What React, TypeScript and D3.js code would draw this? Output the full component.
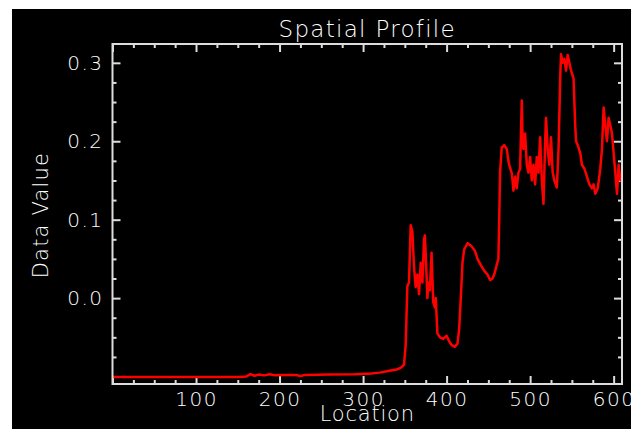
import React, { useEffect, useRef } from "react";
import * as d3 from "d3";

// profile samples: location, data value
const baseLocs = [0, 50, 100, 150, 160, 165, 170, 175, 182, 188, 195, 205, 220, 225, 230, 260, 290, 310, 320, 330, 340, 345, 349];
const baseVals = [-0.1005, -0.1005, -0.1005, -0.1005, -0.1, -0.097, -0.099, -0.0975, -0.0985, -0.097, -0.0985, -0.098, -0.098, -0.0995, -0.098, -0.0975, -0.097, -0.096, -0.095, -0.093, -0.091, -0.089, -0.085];

const riseLocs = [351, 353, 355, 357, 359, 361, 363, 365, 367, 369, 371, 373, 374, 376, 377, 378, 380, 382, 384, 386, 387, 389, 392, 396, 400, 403, 406, 410, 413, 415, 417, 419, 421, 425, 430, 434, 437, 441, 445, 449, 452, 455, 457, 460, 462];
const riseVals = [-0.06, 0.015, 0.02, 0.093, 0.085, 0.04, 0.014, 0.03, 0.005, 0.045, 0.02, 0.075, 0.08, 0.03, 0.0, 0.02, 0.01, 0.058, -0.005, -0.012, 0.0, -0.045, -0.05, -0.052, -0.048, -0.055, -0.06, -0.062, -0.058, -0.04, 0.0, 0.045, 0.062, 0.07, 0.066, 0.06, 0.05, 0.042, 0.035, 0.03, 0.023, 0.025, 0.03, 0.042, 0.05];

const highLocs = [463, 464, 466, 469, 472, 474, 475, 478, 479, 480, 482, 484, 486, 488, 490, 491, 492, 494, 496, 498, 500, 502, 504, 506, 508, 510, 512, 514, 516, 518, 519, 521, 523, 525, 527, 529, 532, 534, 536, 537, 539, 541, 543, 545, 547, 549, 552, 554, 555, 557, 560, 562, 565, 568, 571, 574, 576, 578, 581, 584, 586, 588, 590, 592, 594, 596, 598, 600, 602, 604, 606, 608, 609];
const highVals = [0.1, 0.16, 0.192, 0.195, 0.19, 0.175, 0.17, 0.159, 0.15, 0.137, 0.155, 0.14, 0.16, 0.165, 0.252, 0.2, 0.19, 0.21, 0.17, 0.16, 0.18, 0.15, 0.17, 0.145, 0.18, 0.16, 0.205, 0.15, 0.12, 0.2, 0.23, 0.19, 0.17, 0.205, 0.16, 0.15, 0.141, 0.19, 0.28, 0.311, 0.3, 0.305, 0.29, 0.31, 0.3, 0.29, 0.28, 0.22, 0.2, 0.195, 0.185, 0.17, 0.165, 0.155, 0.145, 0.14, 0.145, 0.133, 0.14, 0.165, 0.19, 0.243, 0.22, 0.2, 0.23, 0.22, 0.21, 0.185, 0.16, 0.133, 0.17, 0.15, 0.155];

const xMajor = [0, 100, 200, 300, 400, 500, 600];
const xLabels = ["", "100", "200", "300", "400", "500", "600"];
const yMajor = [0.0, 0.1, 0.2, 0.3];
const yLabels = ["0.0", "0.1", "0.2", "0.3"];

export default function App() {
  const ref = useRef<SVGSVGElement>(null);

  useEffect(() => {
    const width = 631;
    const height = 429;
    const left = 112.5;
    const right = 622;
    const top = 44;
    const bottom = 384;
    const fg = "#dcdcdc";
    const font = "DejaVu Sans, sans-serif";

    const svg = d3.select(ref.current);
    svg.selectAll("*").remove();

    svg.append("rect").attr("width", width).attr("height", height).attr("fill", "#fff");
    svg.append("rect").attr("x", 12).attr("y", 9).attr("width", width - 12).attr("height", height - 9).attr("fill", "#000");

    const x = d3.scaleLinear().domain([0, 610]).range([left, right]);
    const y = d3.scaleLinear().domain([-0.1095, 0.324]).range([bottom, top]);

    const xMinor = d3.range(0, 611, 25).filter((d) => d % 100 !== 0);
    const yMinor = d3.range(-4, 13).map((i) => i * 0.025).filter((d) => Math.abs(d * 10 - Math.round(d * 10)) > 1e-6 && d <= 0.324 && d >= -0.1095);

    const styleAxis = (g: any) => {
      g.select(".domain").remove();
      g.selectAll("line").attr("stroke", fg).attr("stroke-width", 2);
    };
    const styleText = (sel: any, size: number, spacing: number) =>
      sel.attr("fill", "#ffffff").attr("font-family", font).attr("font-weight", 200)
        .attr("font-size", size).attr("letter-spacing", spacing);

    // inward ticks on all four sides
    svg.append("g").attr("transform", `translate(0,${bottom})`)
      .call(d3.axisBottom(x).tickValues(xMinor).tickSize(-4).tickFormat(() => "")).call(styleAxis);
    svg.append("g").attr("transform", `translate(0,${top})`)
      .call(d3.axisTop(x).tickValues(xMinor).tickSize(-4).tickFormat(() => "")).call(styleAxis);
    svg.append("g").attr("transform", `translate(0,${top})`)
      .call(d3.axisTop(x).tickValues(xMajor).tickSize(-8).tickFormat(() => "")).call(styleAxis);
    svg.append("g").attr("transform", `translate(${left},0)`)
      .call(d3.axisLeft(y).tickValues(yMinor).tickSize(-4).tickFormat(() => "")).call(styleAxis);
    svg.append("g").attr("transform", `translate(${right},0)`)
      .call(d3.axisRight(y).tickValues(yMinor).tickSize(-4).tickFormat(() => "")).call(styleAxis);
    svg.append("g").attr("transform", `translate(${right},0)`)
      .call(d3.axisRight(y).tickValues(yMajor).tickSize(-8).tickFormat(() => "")).call(styleAxis);

    const xAxis = svg.append("g").attr("transform", `translate(0,${bottom})`)
      .call(d3.axisBottom(x).tickValues(xMajor).tickSize(-8).tickPadding(8)
        .tickFormat((_d, i) => xLabels[i]));
    xAxis.call(styleAxis);
    styleText(xAxis.selectAll("text"), 20, 1.5);

    const yAxis = svg.append("g").attr("transform", `translate(${left},0)`)
      .call(d3.axisLeft(y).tickValues(yMajor).tickSize(-8).tickPadding(9)
        .tickFormat((_d, i) => yLabels[i]));
    yAxis.call(styleAxis);
    styleText(yAxis.selectAll("text"), 20, 1.5);

    // the profile
    const locs = [...baseLocs, ...riseLocs, ...highLocs];
    const vals = [...baseVals, ...riseVals, ...highVals];
    const pts = locs.map((l, i) => [l, vals[i]] as [number, number]);
    const line = d3.line<[number, number]>().x((d) => x(d[0])).y((d) => y(d[1]));
    svg.append("path").datum(pts).attr("d", line).attr("fill", "none")
      .attr("stroke", "#ff0000").attr("stroke-width", 2.5).attr("stroke-linejoin", "round");

    svg.append("rect").attr("x", left).attr("y", top).attr("width", right - left).attr("height", bottom - top)
      .attr("fill", "none").attr("stroke", fg).attr("stroke-width", 2);

    styleText(svg.append("text").attr("x", (left + right) / 2).attr("y", 37).attr("text-anchor", "middle"), 23, 1.3)
      .text("Spatial Profile");
    styleText(svg.append("text").attr("x", (left + right) / 2).attr("y", 421).attr("text-anchor", "middle"), 21, 0.8)
      .text("Location");
    styleText(svg.append("text").attr("transform", `translate(48,215) rotate(-90)`).attr("text-anchor", "middle"), 21, 1.2)
      .text("Data Value");
  }, []);

  return (
    <svg ref={ref} width={631} height={429}
      style={{ position: "absolute", left: 0, top: 0, display: "block" }} />
  );
}
